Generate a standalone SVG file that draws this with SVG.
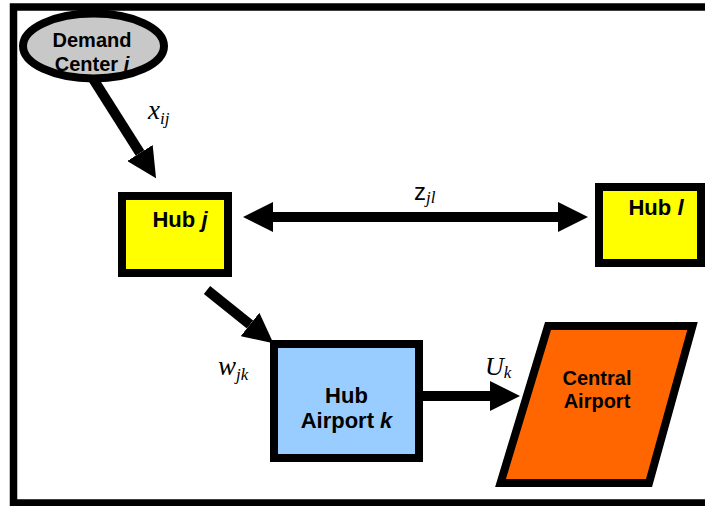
<svg xmlns="http://www.w3.org/2000/svg" width="705" height="506" viewBox="0 0 705 506">
  <style>
    .node { stroke: #000; stroke-width: 8; stroke-linejoin: miter; }
    .lbl { font-family: "Liberation Sans", Arial, sans-serif; font-weight: bold; fill: #000; text-anchor: middle; }
    .var { font-family: "Liberation Serif", "Times New Roman", serif; font-style: italic; fill: #000; }
    .shaft { stroke: #000; stroke-width: 10; fill: none; }
  </style>
  <defs>
    <marker id="head" markerUnits="userSpaceOnUse" viewBox="0 0 30 30" markerWidth="30" markerHeight="30" refX="0" refY="15" orient="auto-start-reverse">
      <path d="M0,0 L30,15 L0,30 z" fill="#000"/>
    </marker>
  </defs>

  <rect width="705" height="506" fill="#fff"/>
  <!-- outer frame -->
  <rect x="13.5" y="7" width="720" height="496" fill="none" stroke="#000" stroke-width="7.5"/>

  <g id="connectors">
    <line class="shaft" x1="90" y1="74" x2="140" y2="153" marker-end="url(#head)"/>
    <line class="shaft" x1="273" y1="217" x2="558" y2="217" marker-start="url(#head)" marker-end="url(#head)"/>
    <line class="shaft" x1="207" y1="290" x2="250" y2="324.5" marker-end="url(#head)"/>
    <line class="shaft" x1="423" y1="396" x2="490" y2="396" marker-end="url(#head)"/>

    <text class="var" x="148" y="119" font-size="27">x<tspan font-size="17" dy="5">ij</tspan></text>
    <text x="414" y="200" font-family="'Liberation Sans', Arial, sans-serif" font-size="24">z<tspan class="var" font-size="17" dy="3">jl</tspan></text>
    <text class="var" x="218" y="375" font-size="27">w<tspan font-size="17" dy="5">jk</tspan></text>
    <text class="var" x="485" y="375" font-size="26">U<tspan font-size="17" dy="3">k</tspan></text>
  </g>

  <g id="demand-center">
    <ellipse class="node" cx="93.5" cy="46" rx="70.5" ry="32.5" fill="#c8c8c8"/>
    <text class="lbl" font-size="20"><tspan x="92" y="47">Demand</tspan><tspan x="92" y="71">Center <tspan font-style="italic">i</tspan></tspan></text>
  </g>

  <g id="hub-j">
    <rect class="node" x="122" y="196" width="106" height="77" fill="#ffff00"/>
    <text class="lbl" x="180" y="227" font-size="22">Hub <tspan font-style="italic">j</tspan></text>
  </g>

  <g id="hub-l">
    <rect class="node" x="599" y="187" width="102" height="76" fill="#ffff00"/>
    <text class="lbl" x="656" y="215" font-size="22">Hub <tspan font-style="italic">l</tspan></text>
  </g>

  <g id="hub-airport-k">
    <rect class="node" x="274" y="344" width="145" height="114" fill="#99ccff"/>
    <text class="lbl" font-size="22"><tspan x="346.5" y="403">Hub</tspan><tspan x="346.5" y="428">Airport <tspan font-style="italic">k</tspan></tspan></text>
  </g>

  <g id="central-airport">
    <polygon class="node" points="548,326 692.5,326 649,483 500.5,483" fill="#ff6600"/>
    <text class="lbl" font-size="20"><tspan x="597" y="385">Central</tspan><tspan x="597" y="408">Airport</tspan></text>
  </g>
</svg>
